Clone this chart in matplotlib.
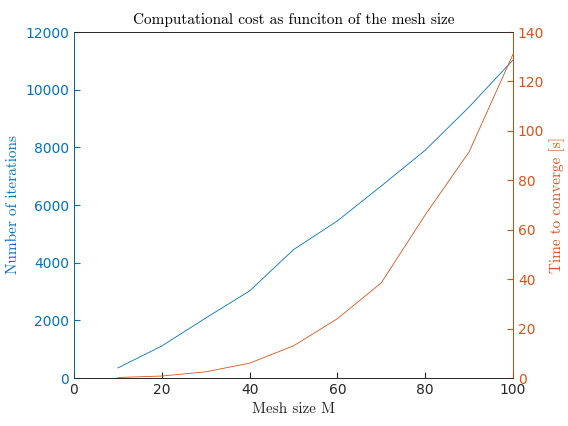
import numpy as np
import matplotlib.pyplot as plt

mesh = [10, 20, 30, 40, 50, 60, 70, 80, 90, 100]
iterations = [350, 1110, 2080, 3020, 4450, 5450, 6660, 7900, 9400, 11030]
time_conv = [0.2, 0.8, 2.5, 6, 13, 24, 38.5, 66, 91.5, 131]

blue = '#0072BD'
orange = '#D95319'

fig = plt.figure(figsize=(5.68, 4.26), dpi=100)
ax = fig.add_axes([74/568, 48/426, 439/568, 346/426])
ax.plot(mesh, iterations, color=blue, lw=0.6)
ax.set_xlim(0, 100)
ax.set_ylim(0, 12000)
ax.set_xticks(np.arange(0, 101, 20))
ax.set_yticks(np.arange(0, 12001, 2000))
ax.tick_params(direction='in', labelsize=10, length=4)
ax.tick_params(axis='y', colors=blue)
ax.tick_params(axis='x', colors='#262626')
ax.set_xlabel('Mesh size M', family='cmr10', fontsize=11, color='#262626')
ax.set_ylabel('Number of iterations', family='cmr10', fontsize=11, color=blue)
ax.set_title('Computational cost as funciton of the mesh size', family='cmr10', fontsize=11)

ax2 = ax.twinx()
ax2.plot(mesh, time_conv, color=orange, lw=0.6)
ax2.set_ylim(0, 140)
ax2.set_yticks(np.arange(0, 141, 20))
ax2.tick_params(direction='in', labelsize=10, length=4, colors=orange)
ax2.set_ylabel('Time to converge [s]', family='cmr10', fontsize=11, color=orange)
ax2.spines['left'].set_color(blue)
ax2.spines['right'].set_color(orange)
for a in (ax, ax2):
    a.spines['top'].set_color('#262626')
    a.spines['bottom'].set_color('#262626')
    for s in a.spines.values():
        s.set_linewidth(0.6)

fig.savefig('out.png', dpi=100)
